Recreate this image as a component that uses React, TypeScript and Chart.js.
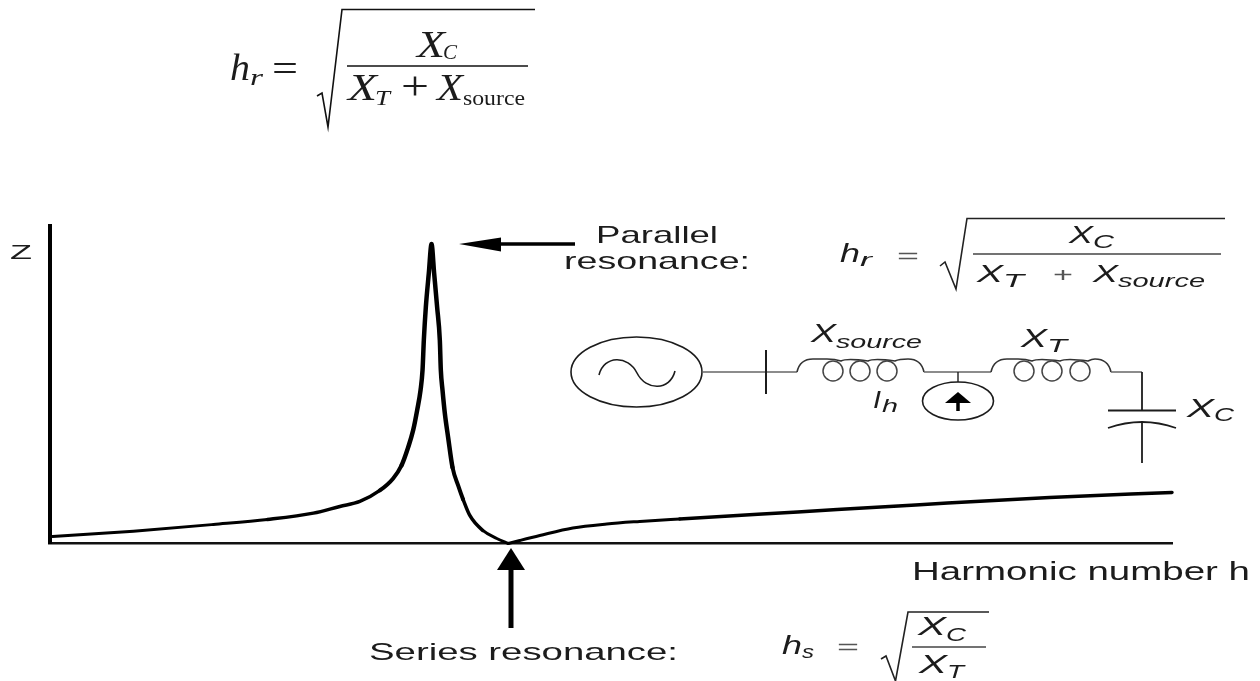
import React, { useEffect, useRef } from "react";
import { Chart, registerables } from "chart.js";

Chart.register(...registerables);

// Curve: harmonic position (plot units) and impedance magnitude,
// in two branches that meet at the series resonance.
const harmonicLow = [3, 84, 164, 218, 264, 290.5, 310.5, 330.5, 343.8, 352.2, 358.8, 363.8, 367.8, 371.2, 373.2, 374.5, 376.5, 379.5, 382.2, 384.8, 387.8, 390.5, 391.5, 393.2, 395.5, 398.8, 403.2, 408.8, 413.8, 420.5, 433.5, 447.5, 459];
const impedanceLow = [7, 12.3, 19, 24, 30.3, 37, 42, 53, 65, 78, 96, 113, 133, 153, 173, 203, 236, 270, 299, 270, 236, 203, 173, 153, 130, 106, 76, 58, 44, 28, 13, 5, 0];
const harmonicHigh = [459, 470.5, 490.5, 523.5, 557.5, 590.5, 630.5, 748.5, 866.5, 1000.5, 1123];
const impedanceHigh = [0, 3, 8, 15.5, 19.5, 22, 24.5, 31.5, 38.5, 46, 51];

const xMax = 1123;
const yMax = 317;
const xAxisLabel = "Harmonic number h";
const yAxisLabel = "Z";
const parallelLabel = ["Parallel", "resonance:"];
const seriesLabel = "Series resonance:";

const SERIF = '"Liberation Serif", serif';
const SANS = '"Liberation Sans", sans-serif';
const INK = "#1c1c1c";

type Ctx = CanvasRenderingContext2D;

function fit(ctx: Ctx, text: string, x0: number, x1: number, y: number, size: number, family = SANS, italic = false, color = INK) {
  ctx.save();
  ctx.font = `${italic ? "italic " : ""}${size}px ${family}`;
  ctx.fillStyle = color;
  ctx.textAlign = "left";
  ctx.textBaseline = "alphabetic";
  const w = ctx.measureText(text).width;
  ctx.translate(x0, y);
  ctx.scale((x1 - x0) / w, 1);
  ctx.fillText(text, 0, 0);
  ctx.restore();
}

function poly(ctx: Ctx, pts: number[][], width: number, color = INK) {
  ctx.save();
  ctx.strokeStyle = color;
  ctx.lineWidth = width;
  ctx.lineJoin = "miter";
  ctx.beginPath();
  pts.forEach(([x, y], i) => (i ? ctx.lineTo(x, y) : ctx.moveTo(x, y)));
  ctx.stroke();
  ctx.restore();
}

function tri(ctx: Ctx, a: number[], b: number[], c: number[], color = "#000") {
  ctx.save();
  ctx.fillStyle = color;
  ctx.beginPath();
  ctx.moveTo(a[0], a[1]);
  ctx.lineTo(b[0], b[1]);
  ctx.lineTo(c[0], c[1]);
  ctx.closePath();
  ctx.fill();
  ctx.restore();
}

function ell(ctx: Ctx, cx: number, cy: number, rx: number, ry: number, width: number, color = INK) {
  ctx.save();
  ctx.strokeStyle = color;
  ctx.lineWidth = width;
  ctx.beginPath();
  ctx.ellipse(cx, cy, rx, ry, 0, 0, Math.PI * 2);
  ctx.stroke();
  ctx.restore();
}

function coil(ctx: Ctx, x0: number, x1: number, centers: number[], y: number) {
  ctx.save();
  ctx.strokeStyle = "#333";
  ctx.lineWidth = 1.6;
  ctx.beginPath();
  ctx.moveTo(x0, y);
  ctx.bezierCurveTo(x0 + 2, y - 9, x0 + 8, y - 13, x0 + 16, y - 13);
  ctx.lineTo(centers[0] - 6, y - 13);
  ctx.quadraticCurveTo(centers[0] + 2, y - 13, centers[0] + 8, y - 11);
  ctx.quadraticCurveTo((centers[0] + centers[1]) / 2, y - 14, centers[1] + 8, y - 11);
  ctx.quadraticCurveTo((centers[1] + centers[2]) / 2, y - 14, centers[2] + 8, y - 11);
  ctx.quadraticCurveTo(centers[2] + 12, y - 13, x1 - 16, y - 13);
  ctx.bezierCurveTo(x1 - 8, y - 13, x1 - 2, y - 9, x1, y);
  ctx.stroke();
  ctx.restore();
  for (const c of centers) ell(ctx, c, y - 1, 10, 10, 1.5, "#444");
}

const diagram = {
  id: "diagram",
  afterDraw(chart: Chart) {
    const ctx = chart.ctx as Ctx;

    // Top formula
    fit(ctx, "h", 230, 250, 80, 37, SERIF, true);
    fit(ctx, "r", 250, 263, 85, 23, SERIF, true);
    fit(ctx, "=", 272, 298, 81, 38, SERIF);
    poly(ctx, [[317, 96], [322, 93], [328, 127], [342, 9.5], [535, 9.5]], 1.6, "#111");
    poly(ctx, [[347, 66], [528, 66]], 1.4, "#111");
    fit(ctx, "X", 417, 445, 57, 38, SERIF, true);
    fit(ctx, "C", 443, 457, 59, 22, SERIF, true);
    fit(ctx, "X", 348, 377, 100, 38, SERIF, true);
    fit(ctx, "T", 375, 390, 105, 22, SERIF, true);
    fit(ctx, "+", 401, 429, 99, 40, SERIF);
    fit(ctx, "X", 437, 463, 100, 38, SERIF, true);
    fit(ctx, "source", 463, 525, 105, 21, SERIF);

    // Axis labels
    fit(ctx, yAxisLabel, 10, 32, 259, 21);
    fit(ctx, xAxisLabel, 912, 1250, 580, 26);

    // Arrows
    poly(ctx, [[498, 244], [575, 244]], 3.5, "#000");
    tri(ctx, [459, 244], [501, 237.5], [501, 251.5]);
    poly(ctx, [[511, 628], [511, 565]], 5, "#000");
    tri(ctx, [511, 548], [497, 570], [525, 570]);

    // Parallel resonance text + formula
    fit(ctx, parallelLabel[0], 596, 718, 243, 24);
    fit(ctx, parallelLabel[1], 564, 750, 269, 24);
    fit(ctx, "h", 840, 860, 262, 26, SANS, true);
    fit(ctx, "r", 860, 872, 266, 18, SANS, true);
    fit(ctx, "=", 897, 919, 263, 20, SANS, false, "#555");
    poly(ctx, [[940, 266], [945, 262], [956, 289], [967, 218.5], [1225, 218.5]], 1.6, "#222");
    poly(ctx, [[973, 254], [1221, 254]], 1.6, "#444");
    fit(ctx, "X", 1069, 1093, 243, 24, SANS, true);
    fit(ctx, "C", 1093, 1114, 248, 19, SANS, true);
    fit(ctx, "X", 977, 1003, 282, 24, SANS, true);
    fit(ctx, "T", 1003, 1024, 287, 19, SANS, true);
    fit(ctx, "+", 1053, 1073, 282, 20, SANS, false, "#555");
    fit(ctx, "X", 1093, 1118, 282, 24, SANS, true);
    fit(ctx, "source", 1118, 1205, 287, 19, SANS, true);

    // Circuit
    ell(ctx, 636.5, 372, 65.5, 35, 1.6);
    ctx.save();
    ctx.strokeStyle = INK;
    ctx.lineWidth = 1.6;
    ctx.beginPath();
    ctx.moveTo(599, 375);
    ctx.bezierCurveTo(604, 355, 628, 355, 637, 373);
    ctx.bezierCurveTo(646, 391, 670, 391, 675, 371);
    ctx.stroke();
    ctx.restore();
    poly(ctx, [[702, 372], [797, 372]], 1.5, "#666");
    poly(ctx, [[766, 350], [766, 394]], 2, INK);
    coil(ctx, 797, 924, [833, 860, 887], 372);
    poly(ctx, [[924, 372], [991, 372]], 1.5, "#666");
    poly(ctx, [[958, 372], [958, 382]], 1.4, INK);
    ell(ctx, 958, 401, 35.5, 19, 1.6);
    poly(ctx, [[958, 400], [958, 411]], 3.5, "#000");
    tri(ctx, [958, 392], [945, 403], [971, 403]);
    coil(ctx, 991, 1111, [1024, 1052, 1080], 372);
    poly(ctx, [[1111, 372], [1142, 372]], 1.5, "#666");
    poly(ctx, [[1142, 372], [1142, 410]], 1.8, INK);
    poly(ctx, [[1108, 410.5], [1176, 410.5]], 1.8, INK);
    ctx.save();
    ctx.strokeStyle = INK;
    ctx.lineWidth = 1.8;
    ctx.beginPath();
    ctx.moveTo(1108, 428);
    ctx.quadraticCurveTo(1142, 416, 1176, 428);
    ctx.stroke();
    ctx.restore();
    poly(ctx, [[1142, 422], [1142, 463]], 1.8, INK);

    fit(ctx, "X", 811, 836, 342, 25, SANS, true);
    fit(ctx, "source", 836, 922, 348, 19, SANS, true);
    fit(ctx, "X", 1021, 1047, 347, 25, SANS, true);
    fit(ctx, "T", 1047, 1067, 352, 19, SANS, true);
    fit(ctx, "I", 873, 881, 408, 24, SANS, true);
    fit(ctx, "h", 882, 898, 412, 18, SANS, true);
    fit(ctx, "X", 1187, 1214, 417, 25, SANS, true);
    fit(ctx, "C", 1214, 1234, 421, 19, SANS, true);

    // Series resonance text + formula
    fit(ctx, seriesLabel, 369, 678, 660, 24);
    fit(ctx, "h", 782, 802, 654, 26, SANS, true);
    fit(ctx, "s", 802, 814, 658, 18, SANS, true);
    fit(ctx, "=", 837, 859, 654, 20, SANS, false, "#555");
    poly(ctx, [[881, 659], [886, 656], [895.5, 681], [908, 612], [989, 612]], 1.6, "#222");
    poly(ctx, [[912, 647], [986, 647]], 1.6, "#444");
    fit(ctx, "X", 918, 946, 635, 25, SANS, true);
    fit(ctx, "C", 946, 966, 641, 19, SANS, true);
    fit(ctx, "X", 919, 947, 673, 25, SANS, true);
    fit(ctx, "T", 947, 964, 678, 19, SANS, true);
  },
};

const branch = (hs: number[], zs: number[]) => ({
  data: hs.map((h, i) => ({ x: h, y: zs[i] })),
  borderColor: "#000",
  borderWidth: 3,
  pointRadius: 0,
  cubicInterpolationMode: "monotone",
  borderCapStyle: "round",
  clip: false,
  segment: {
    borderWidth: (c: any) => {
      const z = Math.max(c.p0.parsed.y, c.p1.parsed.y);
      if (z > 90) return 4.5;
      if (z > 55) return 4;
      if (z > 25) return 3.5;
      return 3;
    },
  },
});

export default function App() {
  const ref = useRef<HTMLCanvasElement>(null);
  useEffect(() => {
    if (!ref.current) return;
    const chart = new Chart(ref.current, {
      type: "line",
      data: {
        datasets: [branch(harmonicLow, impedanceLow), branch(harmonicHigh, impedanceHigh)] as any,
      },
      options: {
        responsive: false,
        animation: false,
        layout: { padding: { left: 49.5, right: 88, top: 226, bottom: 137.5 } },
        plugins: { legend: { display: false }, tooltip: { enabled: false } },
        scales: {
          x: {
            type: "linear",
            min: 0,
            max: xMax,
            ticks: { display: false },
            grid: { drawOnChartArea: false, drawTicks: false },
            border: { color: "#111", width: 2.5 },
          },
          y: {
            type: "linear",
            min: 0,
            max: yMax,
            ticks: { display: false },
            grid: { drawOnChartArea: false, drawTicks: false },
            border: { color: "#000", width: 4 },
          },
        },
      },
      plugins: [diagram],
    } as any);
    return () => chart.destroy();
  }, []);
  return (
    <div style={{ position: "absolute", left: 0, top: 0, width: 1260, height: 681, background: "#fff", overflow: "hidden" }}>
      <canvas ref={ref} width={1260} height={681} style={{ display: "block" }} />
    </div>
  );
}
